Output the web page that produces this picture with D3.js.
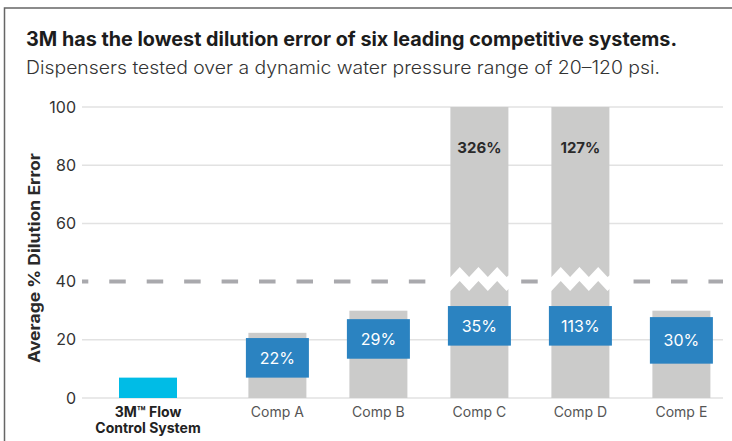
<!DOCTYPE html>
<html><head><meta charset="utf-8">
<script src="https://cdn.jsdelivr.net/npm/d3@7"></script>
<style>html,body{margin:0;padding:0;background:#fff;} svg{display:block;font-family:Inter,"Open Sans",sans-serif;}</style>
</head><body><div id="chart"></div>
<script>
// ---- data ----
const title = "3M has the lowest dilution error of six leading competitive systems.";
const subtitle = "Dispensers tested over a dynamic water pressure range of 20\u2013120 psi.";
const yAxisTitle = "Average % Dilution Error";
const featuredCategory = ["3M\u2122 Flow Control System"];
const featuredLines = ["3M\u2122 Flow", "Control System"];
const featuredValue = [7];
const compCategories = ["Comp A", "Comp B", "Comp C", "Comp D", "Comp E"];
const compRangeTop = [22.4, 30, 326, 127, 30];
const compBoxLow = [7, 13.5, 18, 18, 11.8];
const compBoxHigh = [20.6, 27.1, 31.6, 31.6, 27.8];
const compBoxLabels = ["22%", "29%", "35%", "113%", "30%"];
const yTicks = [0, 20, 40, 60, 80, 100];
const thresholdValue = 40;

// ---- layout ----
const W = 732, H = 441;
const svg = d3.select("#chart").append("svg").attr("width", W).attr("height", H);

const y = d3.scaleLinear().domain([0, 100]).range([398, 107]);
const xComp = d3.scaleBand().domain(compCategories).range([248.4, 710.4]).paddingInner(0.4257).paddingOuter(0);
const xFeat = d3.scaleBand().domain(featuredCategory).range([119, 177]).padding(0);
const gridX0 = 82, gridX1 = 723;

// frame
svg.append("path").attr("d", `M4.5,${H}V8H${W}`).attr("fill", "none").attr("stroke", "#666").attr("stroke-width", 1.5);

// titles
svg.append("text").attr("x", 26).attr("y", 46).attr("font-size", 19.5).attr("font-weight", 700).attr("fill", "#1c1c1c")
  .attr("textLength", 651).attr("lengthAdjust", "spacingAndGlyphs").text(title);
svg.append("text").attr("x", 26).attr("y", 73.5).attr("font-size", 18).attr("font-weight", 300).attr("fill", "#333")
  .attr("textLength", 634).attr("lengthAdjust", "spacingAndGlyphs").text(subtitle);

// y axis title
svg.append("text").attr("transform", `translate(34,258) rotate(-90)`).attr("text-anchor", "middle")
  .attr("dominant-baseline", "central").attr("font-size", 16).attr("font-weight", 700).attr("fill", "#2a2a2a")
  .attr("textLength", 210).attr("lengthAdjust", "spacingAndGlyphs").text(yAxisTitle);

// gridlines
svg.append("g").selectAll("line").data(yTicks.filter(t => t !== thresholdValue)).join("line")
  .attr("x1", gridX0).attr("x2", gridX1).attr("y1", d => y(d)).attr("y2", d => y(d))
  .attr("stroke", "#e2e2e2").attr("stroke-width", 1.5);

// y axis labels
const yAxis = d3.axisLeft(y).tickValues(yTicks).tickSize(0).tickPadding(6);
const ga = svg.append("g").attr("transform", `translate(${gridX0},0)`).call(yAxis);
ga.select(".domain").remove();
ga.selectAll("text").attr("font-size", 16).attr("fill", "#333").attr("font-family", "Inter, sans-serif");

// threshold dashed line
svg.append("line").attr("x1", gridX0).attr("x2", gridX1).attr("y1", y(thresholdValue)).attr("y2", y(thresholdValue))
  .attr("stroke", "#a9a9ad").attr("stroke-width", 4).attr("stroke-dasharray", "16.5 20.95").attr("stroke-dashoffset", 10.2);

// featured bar
svg.append("g").selectAll("rect").data(featuredValue).join("rect")
  .attr("x", (d, i) => xFeat(featuredCategory[i])).attr("width", xFeat.bandwidth())
  .attr("y", d => y(d)).attr("height", d => y(0) - y(d)).attr("fill", "#00bce6");

// comp data
const comp = compCategories.map((c, i) => ({c, top: compRangeTop[i], lo: compBoxLow[i], hi: compBoxHigh[i], label: compBoxLabels[i]}));
const bw = xComp.bandwidth();

// gray range bars
svg.append("g").selectAll("rect").data(comp).join("rect")
  .attr("x", d => xComp(d.c)).attr("width", bw)
  .attr("y", d => y(Math.min(d.top, 100))).attr("height", d => y(0) - y(Math.min(d.top, 100)))
  .attr("fill", "#cbcbca");

// overflow labels
svg.append("g").selectAll("text").data(comp.filter(d => d.top > 100)).join("text")
  .attr("x", d => xComp(d.c) + bw / 2).attr("y", y(86)).attr("text-anchor", "middle").attr("dominant-baseline", "central")
  .attr("font-size", 15).attr("font-weight", 700).attr("fill", "#2a2a2a").text(d => `${d.top}%`);

// break zigzags
const yb = y(thresholdValue);
const zig = svg.append("g");
comp.filter(d => d.top > 100).forEach(d => {
  const x0 = xComp(d.c);
  const step = bw / 6.2;
  const upper = [], lower = [];
  upper.push([x0 - 4.5, yb - 5]); lower.push([x0 - 4.5, yb + 6]);
  for (let k = 0; k <= 6; k++) {
    const xx = x0 + k * step;
    const peak = k % 2 === 1;
    upper.push([xx, peak ? yb - 14.5 : yb - 4.5]);
    lower.push([xx, peak ? yb - 0.5 : yb + 9.5]);
  }
  const xe = x0 + bw + 4;
  upper.push([xe, yb - 9]); lower.push([xe, yb + 4]);
  const pts = upper.concat(lower.reverse());
  zig.append("polygon").attr("points", pts.map(p => p.join(",")).join(" ")).attr("fill", "#fff");
});

// blue boxes
const pad = 2.5;
svg.append("g").selectAll("rect").data(comp).join("rect")
  .attr("x", d => xComp(d.c) - pad).attr("width", bw + 2 * pad)
  .attr("y", d => y(d.hi)).attr("height", d => y(d.lo) - y(d.hi)).attr("fill", "#2b83c1");
svg.append("g").selectAll("text").data(comp).join("text")
  .attr("x", d => xComp(d.c) + bw / 2).attr("y", d => (y(d.hi) + y(d.lo)) / 2)
  .attr("text-anchor", "middle").attr("dominant-baseline", "central")
  .attr("font-size", 16).attr("fill", "#fff").text(d => d.label);

// x labels
svg.append("g").selectAll("text").data(compCategories).join("text")
  .attr("x", d => xComp(d) + bw / 2).attr("y", 416.5).attr("text-anchor", "middle")
  .attr("font-size", 14).attr("fill", "#555").text(d => d);
svg.append("g").selectAll("text").data(featuredLines).join("text")
  .attr("x", xFeat(featuredCategory[0]) + xFeat.bandwidth() / 2).attr("y", (d, i) => 416.5 + i * 16.5)
  .attr("text-anchor", "middle").attr("font-size", 14).attr("font-weight", 700).attr("fill", "#222").text(d => d);
</script></body></html>
